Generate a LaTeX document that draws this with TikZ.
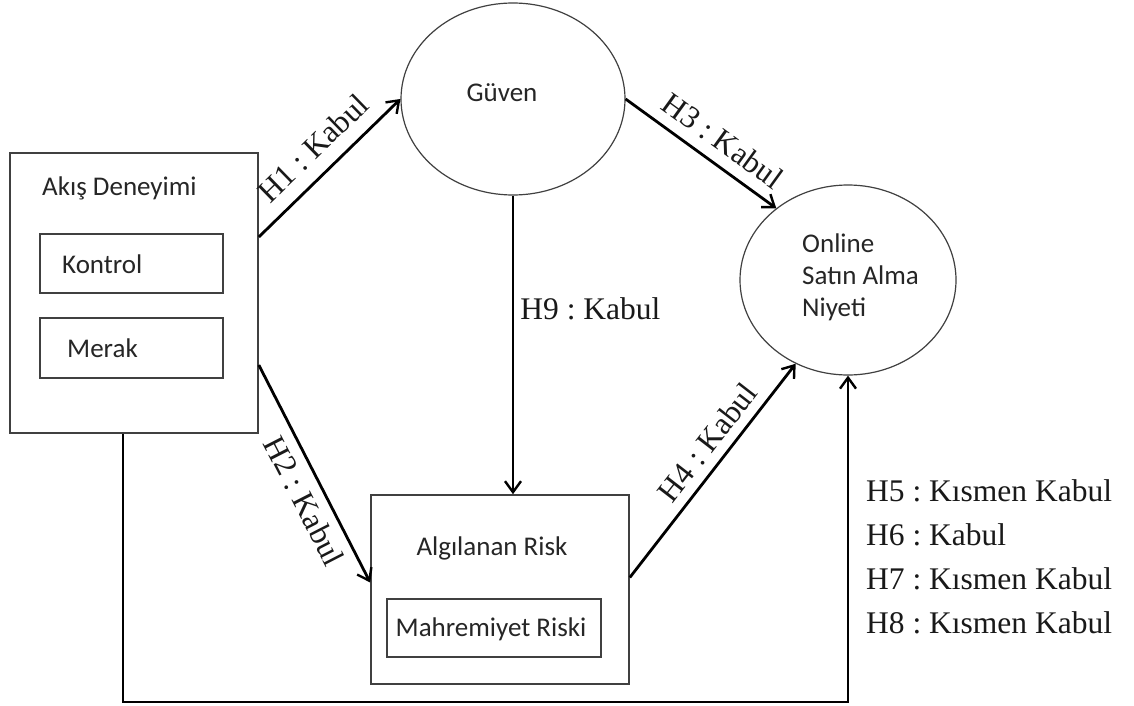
\documentclass[tikz,border=0pt]{standalone}
\usepackage{fontspec}
\setmainfont{Liberation Serif}
\newfontfamily\boxfont{Carlito}
\usetikzlibrary{arrows.meta,shapes.geometric}
\frenchspacing
\begin{document}
\begin{tikzpicture}[x=1pt,y=-1pt,
  frame/.style={draw=black!75,line width=1.6pt,rectangle,inner sep=0pt},
  oval/.style={draw=black!75,line width=1.2pt,ellipse,inner sep=0pt},
  boxtext/.style={font=\boxfont\fontsize{27}{32}\selectfont,inner sep=0pt,text=black!85},
  hyp/.style={font=\fontsize{31.5}{40}\selectfont,inner sep=3pt,text=black!90},
  link/.style={line width=2.8pt,-{Straight Barb[length=11pt,width=16pt,line width=2.4pt]}}]
\useasboundingbox[fill=white] (0,0) rectangle (1134,706);

% flow experience block
\node[frame,minimum width=248,minimum height=280] (akis) at (134,293) {};
\node[boxtext,anchor=west] (akist) at (42,188) {Akış Deneyimi};
\node[frame,minimum width=183,minimum height=59] (kontrol) at (131.5,263.5) {};
\node[boxtext,anchor=west] (kontrolt) at (62,264) {Kontrol};
\node[frame,minimum width=183,minimum height=60] (merak) at (131.5,348) {};
\node[boxtext,anchor=west] (merakt) at (67,348) {Merak};

% trust
\node[oval,minimum width=224,minimum height=192] (guven) at (513,99) {};
\node[boxtext] (guvent) at (502,93) {Güven};

% purchase intention
\node[oval,minimum width=216,minimum height=190] (online) at (848,280) {};
\node[boxtext,anchor=west,align=left] (onlinet) at (802,277) {Online\\Satın Alma\\Niyeti};

% perceived risk
\node[frame,minimum width=258,minimum height=189] (risk) at (500,589.5) {};
\node[boxtext] (riskt) at (492,548) {Algılanan Risk};
\node[frame,minimum width=214,minimum height=58] (mahrem) at (494,628) {};
\node[boxtext] (mahremt) at (491,629) {Mahremiyet Riski};

% hypotheses
\draw[link] ([yshift=56pt]akis.east) -- (guven.west)
  node[hyp,midway,above,sloped,yshift=10pt,xshift=2pt] {H1 : Kabul};
\draw[link] (guven.east) -- (online.135)
  node[hyp,pos=0.5,above,sloped,yshift=8pt,xshift=10pt] {H3 : Kabul};
\draw[link] (guven.south) -- (guven.south |- risk.north)
  node[hyp,pos=0.38,right,xshift=3pt] {H9 : Kabul};
\draw[link] ([yshift=-72pt]akis.east) -- ([yshift=7pt]risk.west)
  node[hyp,pos=0.58,below,sloped,yshift=-6pt] {H2 : Kabul};
\draw[link] ([yshift=12pt]risk.east) -- (online.238)
  node[hyp,pos=0.57,above,sloped,yshift=6pt] {H4 : Kabul};

\coordinate (bottomrow) at (500,702);
\draw[link] ([xshift=-11pt]akis.south) |- (bottomrow) -| (online.south);

\node[hyp,anchor=west,align=left,inner sep=0pt,font=\fontsize{31.5}{44}\selectfont] (results) at (866,557)
  {H5 : Kısmen Kabul\\H6 : Kabul\\H7 : Kısmen Kabul\\H8 : Kısmen Kabul};
\end{tikzpicture}
\end{document}
